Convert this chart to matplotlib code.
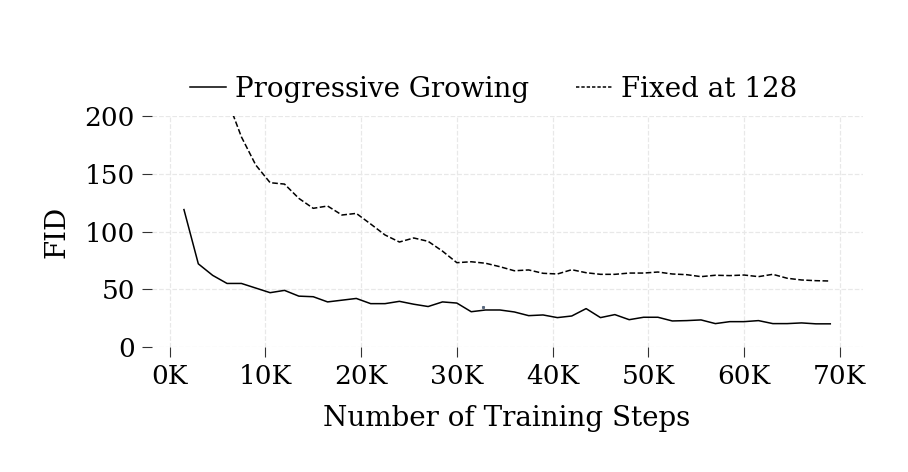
import numpy as np
import matplotlib
matplotlib.use("Agg")
import matplotlib.pyplot as plt
from matplotlib.ticker import FuncFormatter

# training steps (in K) where FID was evaluated
steps_pg = np.arange(1, 47) * 1.5
fid_pg = [119, 72, 62, 55, 55, 51, 47, 49, 44, 43.5,
          39, 40.5, 42, 37.5, 37.5, 39.5, 37, 35, 39, 38,
          30.5, 32, 32, 30.3, 27.1, 27.7, 25.4, 26.8, 33.2, 25.4,
          28, 23.6, 25.7, 25.7, 22.5, 22.8, 23.4, 20.2, 21.9, 21.9,
          22.8, 20.2, 20.2, 20.8, 20, 20]

steps_fixed = np.arange(4, 47) * 1.5
fid_fixed = [215, 182, 157.6, 142.3, 141.1, 128.7, 120.1, 122.1, 114.3, 115.7,
             106.5, 97, 90.9, 94.4, 91.5, 83, 73, 73.8, 72.5, 69.5,
             66, 66.7, 63.8, 63.2, 66.9, 64.3, 62.9, 62.9, 64, 64,
             64.9, 63.2, 62.6, 60.9, 62.1, 61.8, 62.3, 60.9, 62.9, 59.5,
             58, 57.4, 57.1]

# single stray point visible in the original figure
stray_x = [32.7]
stray_y = [34.6]

xticks = [0, 10, 20, 30, 40, 50, 60, 70]
yticks = [0, 50, 100, 150, 200]

plt.rcParams["font.family"] = ["DejaVu Serif"]
plt.rcParams["font.size"] = 20

fig = plt.figure(figsize=(9.08, 4.72), dpi=100)
ax = fig.add_axes([0.167, 0.265, 0.783, 0.489])

ax.plot(steps_pg, fid_pg, color="black", lw=1.1, label="Progressive Growing")
ax.plot(steps_fixed, fid_fixed, color="black", lw=1.1, ls="--",
        label="Fixed at 128")
ax.plot(stray_x, stray_y, ls="none", marker="s", ms=1.2, color="#5a6a80")

ax.set_ylim(0, 200)
ax.set_xticks(xticks)
ax.set_yticks(yticks)
ax.xaxis.set_major_formatter(FuncFormatter(lambda v, p: f"{int(v)}K"))

for s in ax.spines.values():
    s.set_visible(False)
ax.tick_params(length=7, width=0.8, color="#333333", pad=5, labelsize=19)
ax.grid(True, color="#e8e8e8", ls="--", lw=0.9)
ax.set_axisbelow(True)

ax.set_xlabel("Number of Training Steps", labelpad=12)
ax.set_ylabel("FID", labelpad=10)

leg = ax.legend(loc="lower center", bbox_to_anchor=(0.481, 1.01), ncol=2,
                frameon=False, handlelength=1.3, handletextpad=0.3,
                columnspacing=1.7, borderaxespad=0)
leg.get_lines()[1].set_dashes([2.2, 1.3])

fig.savefig("out.png", dpi=100)
